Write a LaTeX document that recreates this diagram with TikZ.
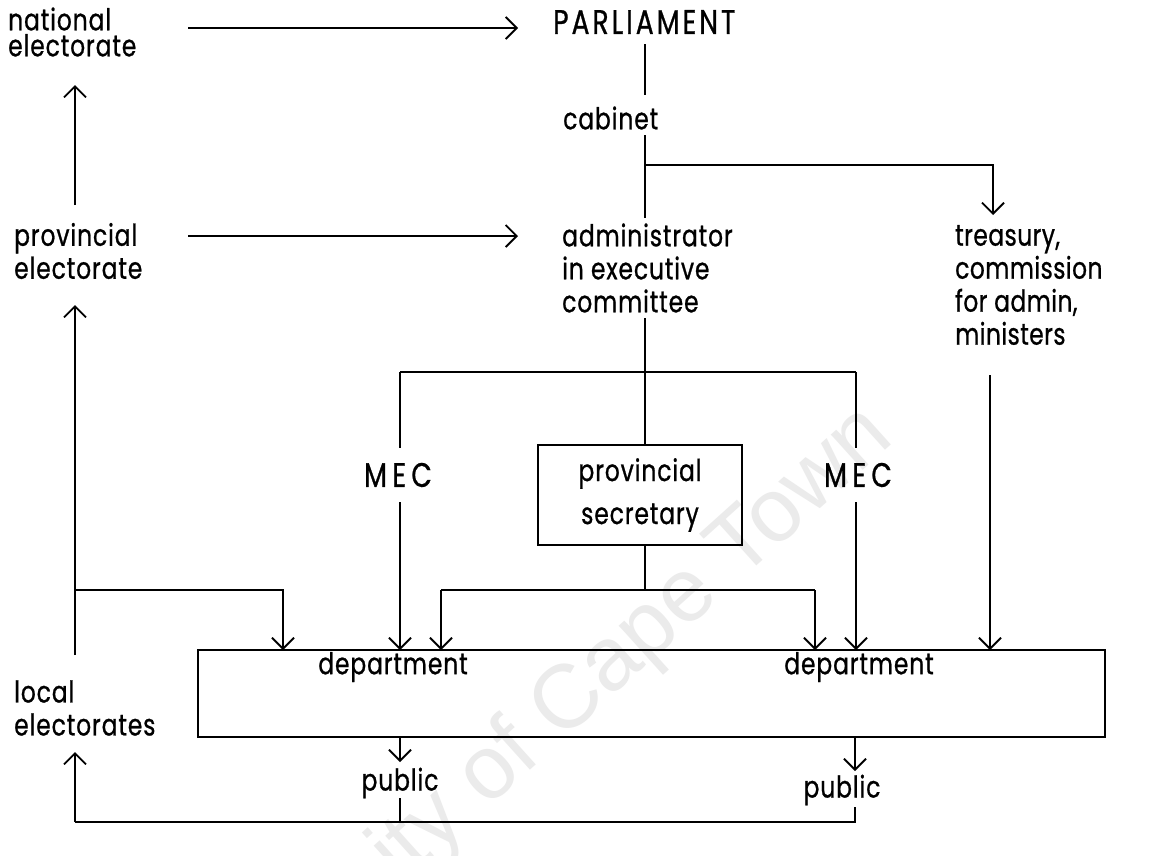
\documentclass[tikz,border=0pt]{standalone}
\usepackage{fontspec}
\setmainfont{Liberation Sans}
\newfontfamily\lettering[FakeStretch=0.78, LetterSpace=3, FakeBold=0.8]{Poppins}
\usetikzlibrary{arrows.meta}
\begin{document}
\begin{tikzpicture}[x=1pt,y=-1pt,
  lbl/.style={inner sep=0pt, font=\lettering\fontsize{30}{33}\selectfont, align=left},
  cbox/.style={draw, line width=1.8pt, inner sep=0pt, align=center,
               font=\lettering\fontsize{30}{43}\selectfont},
  caps/.style={font=\lettering\fontsize{34}{34}\selectfont\addfontfeature{LetterSpace=#1}},
  link/.style={line width=1.8pt},
  arr/.style={link, -{Straight Barb[length=11pt,width=22pt,line width=1.8pt]}},
  watermark/.style={text=black!8, font=\fontsize{90}{90}\selectfont, inner sep=0pt}
]
\useasboundingbox (0,0) rectangle (1157,855);
\fill[white] (0,0) rectangle (1157,855);

% faint watermark behind the chart
\node[watermark, rotate=42] (wm) at (520,748) {University of Cape Town};

% labels
\node[lbl, anchor=west, font=\lettering\fontsize{30}{26}\selectfont] (natl) at (8,32) {national\\electorate};
\node[lbl, anchor=west, caps=9] (parl) at (553,22) {PARLIAMENT};
\node[lbl, anchor=west] (cab) at (563,118) {cabinet};
\node[lbl, anchor=west] (prov) at (14,251) {provincial\\electorate};
\node[lbl, anchor=west] (admin) at (562,268) {administrator\\in executive\\committee};
\node[lbl, anchor=west, font=\lettering\fontsize{30}{33}\selectfont\addfontfeature{LetterSpace=1.5}] (treas) at (955,285) {treasury,\\commission\\for admin,\\ministers};
\node[lbl, anchor=center, caps=16] (mecL) at (398,475) {MEC};
\node[lbl, anchor=center, caps=16] (mecR) at (858,475) {MEC};
\node[cbox, minimum width=204pt, minimum height=100pt] (psec) at (640,495) {provincial\\secretary};
\node[draw, line width=1.8pt, minimum width=907pt, minimum height=87pt, inner sep=0pt] (dept) at (651.5,693.5) {};
\node[lbl, anchor=center] (deptL) at (393,667) {department};
\node[lbl, anchor=center] (deptR) at (859,667) {department};
\node[lbl, anchor=west] (local) at (14,708) {local\\electorates};
\node[lbl, anchor=center] (pubL) at (400,783) {public};
\node[lbl, anchor=center] (pubR) at (842,790) {public};

% junction points
\coordinate (spine) at (645,0);
\coordinate (capbranch) at (645,165);
\coordinate (mecbar) at (400,372);
\coordinate (secbar) at (441,590);
\coordinate (locbar) at (75,590);
\coordinate (foot) at (75,822);

% national and provincial electorates
\draw[arr] (188,28) coordinate (natlout) -- (518,28) coordinate (parlin);
\draw[arr] (188,236) coordinate (provout) -- (518,236) coordinate (adminin);
\draw[arr] (75,205) coordinate (provup) -- (75,85) coordinate (natlin);

% parliament, cabinet, administrator
\draw[link] (spine |- 0,44) -- (spine |- 0,95);
\draw[link] (spine |- 0,135) -- (spine |- 0,218);
\draw[arr] (capbranch) -| (993,215) coordinate (treasin);

% administrator to MECs and provincial secretary
\draw[link] (spine |- 0,318) -- (psec.north -| spine);
\draw[link] (mecbar) -- (856,372) coordinate (mecbarR);
\draw[link] (mecbar) -- (400,448);
\draw[arr] (400,502) -- (400,650);
\draw[link] (mecbarR) -- (856,448);
\draw[arr] (856,502) -- (856,650);

% treasury to department
\draw[arr] (990,375) -- (990,650);

% provincial secretary to departments
\draw[link] (psec.south -| spine) -- (spine |- secbar);
\draw[link] (secbar) -- (815,590) coordinate (secbarR);
\draw[arr] (secbar) -- (441,650);
\draw[arr] (secbarR) -- (815,650);

% local electorates
\draw[arr] (75,655) -- (75,305) coordinate (provin);
\draw[arr] (locbar) -| (283,650);

% departments to public and back
\draw[arr] (400,737) -- (400,762);
\draw[arr] (855,737) -- (855,771);
\draw[link] (400,798) -- (400,822);
\draw[link] (855,807) -- (855,822) -- (foot);
\draw[arr] (foot) -- (75,752);
\end{tikzpicture}
\end{document}
